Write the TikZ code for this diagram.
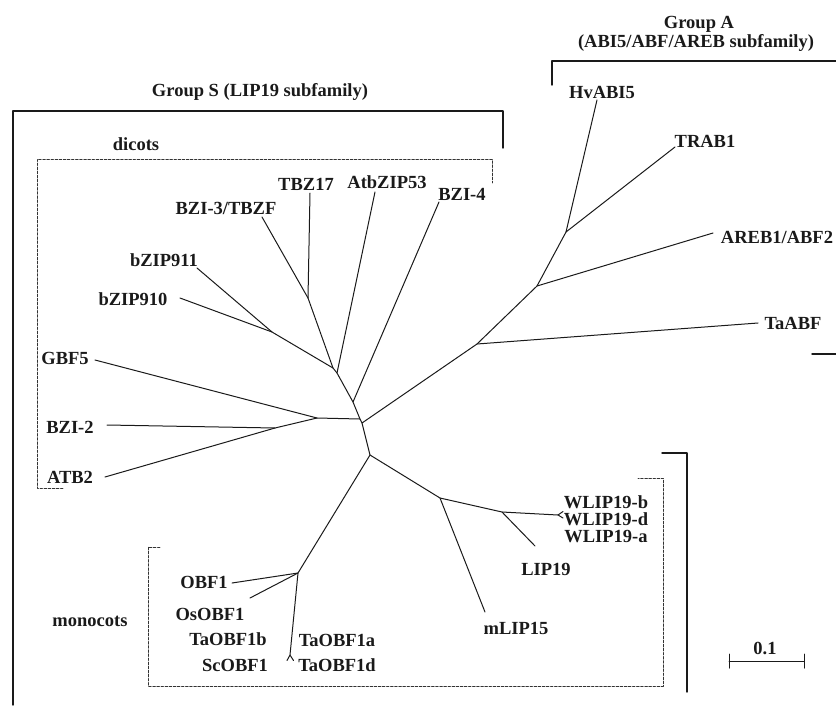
\documentclass[tikz,border=0pt]{standalone}
\usepackage{fontspec}
\setmainfont{Liberation Serif}
\usetikzlibrary{calc}
\definecolor{inkmain}{HTML}{1A1A1A}
\definecolor{inkdash}{HTML}{333333}
\tikzset{every node/.append style={font=\bfseries\fontsize{18.5}{18.5}\selectfont,text=inkmain,inner sep=0pt}}
\tikzset{
  taxon/.style={anchor=base},
  branch/.style={draw=inkmain,line width=1pt},
  bracket/.style={draw=inkmain,line width=1.4pt},
  dashbox/.style={draw=inkdash,line width=0.9pt,dash pattern=on 2.5pt off 1.6pt}
}

\begin{document}
\begin{tikzpicture}[x=1pt,y=-1pt,line cap=round,line join=round]
  \useasboundingbox (0,0) rectangle (836,705);
  % group titles and brackets
  \node[taxon] (grpA) at (699,28) {Group A};
  \node[taxon] (grpAsub) at (696,47) {(ABI5/ABF/AREB subfamily)};
  \node[taxon] (grpS) at (260,96) {Group S (LIP19 subfamily)};
  \node[taxon] (dicots) at (136,150) {dicots};
  \node[taxon] (monocots) at (90,626) {monocots};
  \draw[bracket] (552,85) -- (552,61) -- (836,61);
  \draw[bracket] (812,354) -- (836,354);
  \draw[bracket] (503,148) -- (503,111) -- (13,111) -- (13,705);
  \draw[bracket] (662,453) -- (687,453) -- (687,692);
  \draw[dashbox] (63,488) -- (37,488) -- (37,159) -- (492,159) -- (492,183);
  \draw[dashbox] (160,547) -- (148,547) -- (148,686) -- (663,686) -- (663,478) -- (638,478);

  % internal nodes
  \coordinate (n3) at (308,298);
  \coordinate (n911) at (272,332);
  \coordinate (t1) at (333,368);
  \coordinate (t2) at (337,373);
  \coordinate (t3) at (353,402);
  \coordinate (t4) at (360,419);
  \coordinate (t5) at (362,423);
  \coordinate (t6) at (370,455);
  \coordinate (gbf) at (317,418);
  \coordinate (atb) at (275,428);
  \coordinate (a1) at (477,344);
  \coordinate (a2) at (537,286);
  \coordinate (a3) at (566,232);
  \coordinate (l1) at (440,498);
  \coordinate (l2) at (502,512);
  \coordinate (m1) at (298,573);

  % tips
  \coordinate (tHv) at (597,100);
  \coordinate (tTR) at (675,147);
  \coordinate (tAR) at (713,233);
  \coordinate (tTa) at (758,323);
  \coordinate (tTBZ) at (310,193);
  \coordinate (tAtb) at (375,192);
  \coordinate (tBZ4) at (439,202);
  \coordinate (tBZ3) at (262,217);
  \coordinate (t911) at (197,268);
  \coordinate (t910) at (180,298);
  \coordinate (tGBF) at (95,360);
  \coordinate (tBZ2) at (107,425);
  \coordinate (tATB) at (105,477);
  \coordinate (tW) at (558,515);
  \coordinate (tLIP) at (535,546);
  \coordinate (tmLIP) at (485,612);
  \coordinate (tOBF) at (232,583);
  \coordinate (tOs) at (250,598);
  \coordinate (tTaO) at (290,655);

  % branches
  \draw[branch] (tBZ3) -- (n3) -- (t1) -- (t2) -- (t3) -- (t4) -- (t5) -- (t6);
  \draw[branch] (tTBZ) -- (n3);
  \draw[branch] (t911) -- (n911) -- (t1);
  \draw[branch] (t910) -- (n911);
  \draw[branch] (tAtb) -- (t2);
  \draw[branch] (tBZ4) -- (t3);
  \draw[branch] (tGBF) -- (gbf) -- (t4);
  \draw[branch] (tATB) -- (atb) -- (gbf);
  \draw[branch] (tBZ2) -- (atb);
  \draw[branch] (t5) -- (a1) -- (a2) -- (a3) -- (tHv);
  \draw[branch] (a3) -- (tTR);
  \draw[branch] (a2) -- (tAR);
  \draw[branch] (a1) -- (tTa);
  \draw[branch] (t6) -- (l1) -- (l2) -- (tW);
  \draw[branch] (l2) -- (tLIP);
  \draw[branch] (l1) -- (tmLIP);
  \draw[branch] (t6) -- (m1) -- (tTaO);
  \draw[branch] (tOBF) -- (m1);
  \draw[branch] (tOs) -- (m1);
  \draw[branch] (tW) -- ++(5,-3.5) (tW) -- ++(5,3);
  \draw[branch] (tTaO) -- ++(-3,5.5) (tTaO) -- ++(3.5,5.5);

  % taxa
  \node[taxon] (HvABI5) at (602,98) {HvABI5};
  \node[taxon] (TRAB1) at (705,147) {TRAB1};
  \node[taxon] (AREB1) at (777,243) {AREB1/ABF2};
  \node[taxon] (TaABF) at (793,329) {TaABF};
  \node[taxon] (TBZ17) at (306,190) {TBZ17};
  \node[taxon] (AtbZIP53) at (387,188) {AtbZIP53};
  \node[taxon] (BZI4) at (462,200) {BZI-4};
  \node[taxon] (BZI3) at (226,214) {BZI-3/TBZF};
  \node[taxon] (bZIP911) at (164,266) {bZIP911};
  \node[taxon] (bZIP910) at (133,305) {bZIP910};
  \node[taxon] (GBF5) at (65,364) {GBF5};
  \node[taxon] (BZI2) at (70,433) {BZI-2};
  \node[taxon] (ATB2) at (70,483) {ATB2};
  \node[taxon] (WLIPb) at (606,508) {WLIP19-b};
  \node[taxon] (WLIPd) at (606,525) {WLIP19-d};
  \node[taxon] (WLIPa) at (606,542) {WLIP19-a};
  \node[taxon] (LIP19) at (546,575) {LIP19};
  \node[taxon] (mLIP15) at (516,634) {mLIP15};
  \node[taxon] (OBF1) at (204,588) {OBF1};
  \node[taxon] (OsOBF1) at (210,620) {OsOBF1};
  \node[taxon] (TaOBF1b) at (228,645) {TaOBF1b};
  \node[taxon] (ScOBF1) at (235,671) {ScOBF1};
  \node[taxon] (TaOBF1a) at (337,646) {TaOBF1a};
  \node[taxon] (TaOBF1d) at (337,671) {TaOBF1d};

  % scale bar
  \coordinate (sbL) at (729,661);
  \coordinate (sbR) at (804,661);
  \draw[branch] (sbL) -- (sbR);
  \draw[branch] ($(sbL)+(0,-7)$) -- ($(sbL)+(0,7)$);
  \draw[branch] ($(sbR)+(0,-7)$) -- ($(sbR)+(0,7)$);
  \node[taxon] (sbLabel) at (765,654) {0.1};
\end{tikzpicture}
\end{document}
